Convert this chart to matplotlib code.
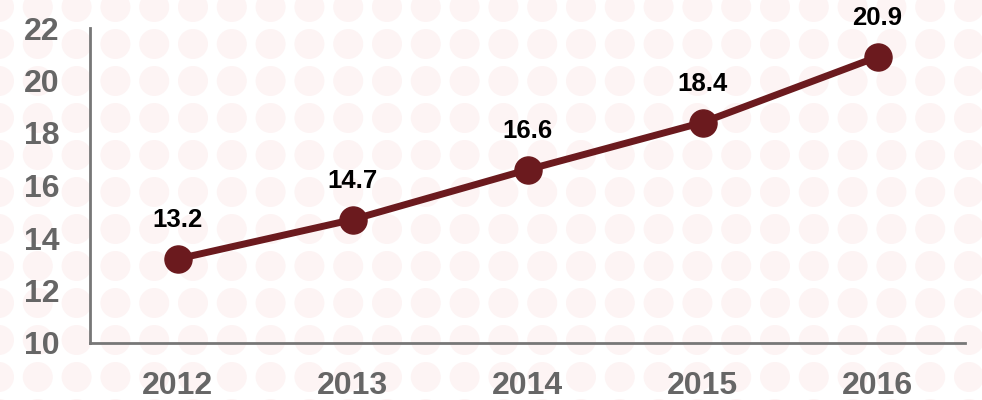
import numpy as np
import matplotlib.pyplot as plt

years = ["2012", "2013", "2014", "2015", "2016"]
values = [13.2, 14.7, 16.6, 18.4, 20.9]
y_ticks = [10, 12, 14, 16, 18, 20, 22]

W, H, DPI = 982, 400, 100
LINE_COLOR = "#6b1a1e"
TICK_COLOR = "#666666"

plt.rcParams['font.family'] = ['Liberation Sans', 'DejaVu Sans']

fig = plt.figure(figsize=(W / DPI, H / DPI), dpi=DPI)

# faint dotted background pattern
bg = fig.add_axes([0, 0, 1, 1])
bg.set_xlim(0, W)
bg.set_ylim(H, 0)
bg.axis("off")
cx = np.arange(-1, W + 40, 38.8)
cy = np.arange(7, H + 40, 37)
gx, gy = np.meshgrid(cx, cy)
bg.scatter(gx.ravel(), gy.ravel(), s=(30 * 0.72) ** 2, color="#fdf4f4",
           edgecolors="none", zorder=0)

# main chart area in pixel terms
left, right, top, bottom = 90, 965, 28, 343
ax = fig.add_axes([left / W, 1 - bottom / H, (right - left) / W, (bottom - top) / H])
ax.patch.set_alpha(0)

x = np.arange(len(years))
ax.plot(x, values, color=LINE_COLOR, lw=5, marker="o", markersize=19.5,
        solid_capstyle="round", clip_on=False, zorder=3)

for xi, v in zip(x, values):
    ax.annotate(f"{v}", (xi, v), xytext=(0, 23), textcoords="offset points",
                ha="center", va="baseline", fontsize=18.5, fontweight="bold",
                color="black", annotation_clip=False)

ax.set_xlim(-0.5, len(years) - 0.5)
ax.set_ylim(10, 22)
ax.set_xticks(x)
ax.set_xticklabels(years)
ax.set_yticks(y_ticks)

for side in ["top", "right"]:
    ax.spines[side].set_visible(False)
for side in ["left", "bottom"]:
    ax.spines[side].set_color("#777777")
    ax.spines[side].set_linewidth(2)

ax.tick_params(axis="both", length=0, labelsize=23, labelcolor=TICK_COLOR)
ax.tick_params(axis="y", pad=22)
ax.tick_params(axis="x", pad=20)
for lab in ax.get_xticklabels() + ax.get_yticklabels():
    lab.set_fontweight("bold")

fig.savefig("out.png", dpi=DPI)
